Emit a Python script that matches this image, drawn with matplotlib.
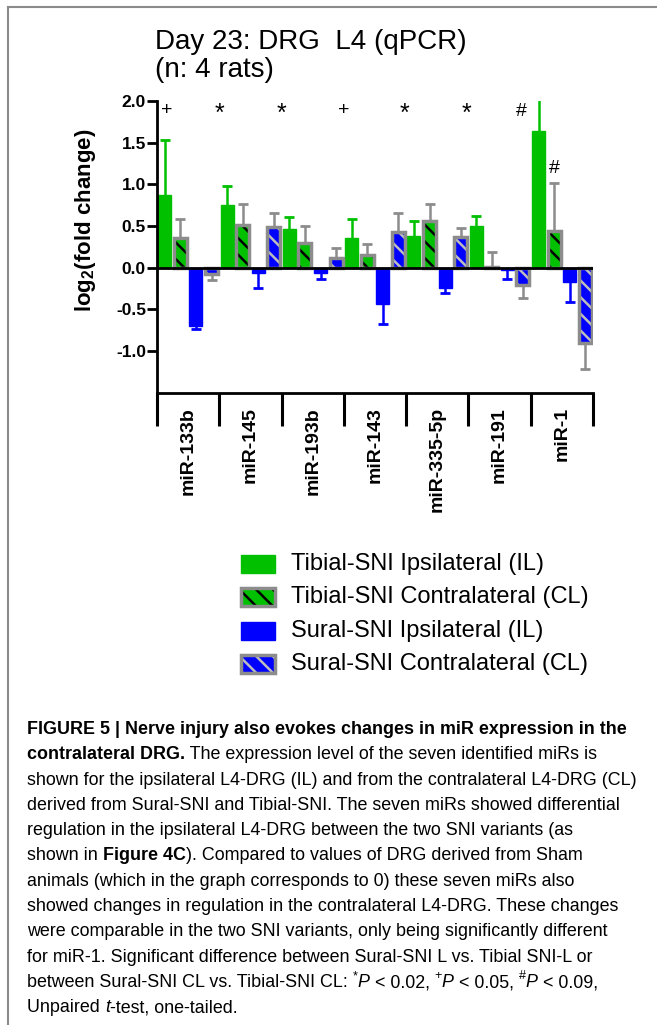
import matplotlib
matplotlib.use('Agg')
import matplotlib.pyplot as plt
import matplotlib.transforms as mtransforms
from matplotlib.patches import Rectangle
from matplotlib.lines import Line2D
from matplotlib.ticker import FormatStrFormatter
from matplotlib.font_manager import FontProperties, fontManager
import numpy as np

# --- dane ---
mirs = ['miR-133b', 'miR-145', 'miR-193b', 'miR-143', 'miR-335-5p', 'miR-191', 'miR-1']

tib_il = [0.87, 0.75, 0.46, 0.36, 0.38, 0.50, 1.64]
tib_il_err = [0.66, 0.23, 0.15, 0.22, 0.18, 0.12, 0.45]
tib_cl = [0.36, 0.51, 0.29, 0.15, 0.56, 0.01, 0.44]
tib_cl_err = [0.22, 0.25, 0.21, 0.13, 0.20, 0.18, 0.57]
sur_il = [-0.70, -0.07, -0.07, -0.44, -0.24, -0.03, -0.17]
sur_il_err = [0.04, 0.18, 0.07, 0.24, 0.07, 0.11, 0.24]
sur_cl = [-0.08, 0.49, 0.11, 0.43, 0.37, -0.21, -0.91]
sur_cl_err = [0.07, 0.17, 0.12, 0.22, 0.10, 0.16, 0.31]

marks = ['+', '*', '*', '+', '*', '*', '#', '#']
mark_x = [0.1, 3.5, 7.5, 11.5, 15.4, 19.4, 22.9, 25.0]
mark_y = [1.88, 1.84, 1.84, 1.88, 1.84, 1.84, 1.87, 1.19]
mark_size = {'+': 14, '*': 18, '#': 14}

legend_labels = ['Tibial-SNI Ipsilateral (IL)', 'Tibial-SNI Contralateral (CL)',
                 'Sural-SNI Ipsilateral (IL)', 'Sural-SNI Contralateral (CL)']

caption = [
    [('FIGURE 5 | Nerve injury also evokes changes in miR expression in the', 'b')],
    [('contralateral DRG.', 'b'), (' The expression level of the seven identified miRs is', 'n')],
    [('shown for the ipsilateral L4-DRG (IL) and from the contralateral L4-DRG (CL)', 'n')],
    [('derived from Sural-SNI and Tibial-SNI. The seven miRs showed differential', 'n')],
    [('regulation in the ipsilateral L4-DRG between the two SNI variants (as', 'n')],
    [('shown in ', 'n'), ('Figure 4C', 'b'), ('). Compared to values of DRG derived from Sham', 'n')],
    [('animals (which in the graph corresponds to 0) these seven miRs also', 'n')],
    [('showed changes in regulation in the contralateral L4-DRG. These changes', 'n')],
    [('were comparable in the two SNI variants, only being significantly different', 'n')],
    [('for miR-1. Significant difference between Sural-SNI L vs. Tibial SNI-L or', 'n')],
    [('between Sural-SNI CL vs. Tibial-SNI CL: ', 'n'), ('*', 's'), ('P', 'i'), (' < 0.02, ', 'n'),
     ('+', 's'), ('P', 'i'), (' < 0.05, ', 'n'), ('#', 's'), ('P', 'i'), (' < 0.09,', 'n')],
    [('Unpaired ', 'n'), ('t', 'i'), ('-test, one-tailed.', 'n')],
]

# --- styl ---
plt.rcParams['font.family'] = 'Liberation Sans'
plt.rcParams['axes.unicode_minus'] = False
plt.rcParams['hatch.linewidth'] = 1.8
plt.rcParams['mathtext.fontset'] = 'custom'
plt.rcParams['mathtext.rm'] = 'Liberation Sans:bold'

names = {f.name for f in fontManager.ttflist}
cap_font = 'Liberation Sans Narrow' if 'Liberation Sans Narrow' in names else 'Liberation Sans'

W, H = 657, 1025
fig = plt.figure(figsize=(W / 100, H / 100), dpi=100)


def fx(x):
    return x / W


def fy(y):
    return 1 - y / H


green = '#00c000'
blue = '#0000ff'
gray = '#8c8c8c'
light = '#bdbdbd'
hatch = '\\\\'

ax = fig.add_axes([fx(157), fy(392.6), 436 / W, (392.6 - 101) / H])

base = np.arange(len(mirs)) * 4
bw = 0.84

ax.bar(base, tib_il, bw, color=green, edgecolor=green, lw=1, zorder=2)
ax.bar(base + 1, tib_cl, bw, color=green, edgecolor='black', hatch=hatch, lw=0, zorder=2)
ax.bar(base + 1, tib_cl, bw, fill=False, edgecolor=gray, lw=2.5, zorder=3)
ax.bar(base + 2, sur_il, bw, color=blue, edgecolor=blue, lw=1, zorder=2)
ax.bar(base + 3, sur_cl, bw, color=blue, edgecolor=light, hatch=hatch, lw=0, zorder=2)
ax.bar(base + 3, sur_cl, bw, fill=False, edgecolor=gray, lw=2.5, zorder=3)


def one_side_err(xs, vals, errs, color):
    vals = np.array(vals)
    tips = vals + np.sign(vals) * np.array(errs)
    ax.vlines(xs, vals, tips, color=color, lw=1.8, zorder=1.5)
    ax.plot(xs, tips, ls='none', marker='_', ms=7, mew=2, color=color, zorder=1.5)


one_side_err(base, tib_il, tib_il_err, green)
one_side_err(base + 1, tib_cl, tib_cl_err, gray)
one_side_err(base + 2, sur_il, sur_il_err, blue)
one_side_err(base + 3, sur_cl, sur_cl_err, gray)

ax.axhline(0, color='black', lw=2, zorder=4)

for m, x, y in zip(marks, mark_x, mark_y):
    ax.text(x, y, m, ha='center', va='center', fontsize=mark_size[m])

ax.set_xlim(-0.5, 27.5)
ax.set_ylim(-1.5, 2.0)
ax.spines[['top', 'right']].set_visible(False)
ax.spines['left'].set_linewidth(2)
ax.spines['bottom'].set_linewidth(2)
ax.set_yticks(np.arange(-1.0, 2.01, 0.5))
ax.yaxis.set_major_formatter(FormatStrFormatter('%.1f'))
ax.tick_params(axis='y', direction='out', length=7, width=2, labelsize=12.5, pad=1)
for lab in ax.get_yticklabels():
    lab.set_fontweight('bold')
ax.set_xticks(np.arange(-0.5, 28, 4))
ax.set_xticklabels([])
ax.tick_params(axis='x', direction='out', length=24, width=2.2)

trans = mtransforms.blended_transform_factory(ax.transData, fig.transFigure)
for i, name in enumerate(mirs):
    ax.text(base[i] + 1.5, fy(407), name, transform=trans, rotation=90, ha='center',
            va='top', fontsize=14, fontweight='bold')

fig.text(fx(85), fy(220), r'log$_2$(fold change)', rotation=90, ha='center', va='center',
         fontsize=16, fontweight='bold')

fig.text(fx(155), fy(42), 'Day 23: DRG  L4 (qPCR)', fontsize=20, va='center')
fig.text(fx(155), fy(70), '(n: 4 rats)', fontsize=20, va='center')

# --- legenda ---
rows = [564, 597, 631, 664]
styles = [(green, None, None), (green, 'black', gray), (blue, None, None), (blue, light, gray)]
for y, lab, (fc, hc, ec) in zip(rows, legend_labels, styles):
    x0, y0, w, h = fx(241), fy(y + 9), 34 / W, 18 / H
    if hc is None:
        fig.add_artist(Rectangle((x0, y0), w, h, facecolor=fc, edgecolor=fc, lw=1))
    else:
        fig.add_artist(Rectangle((x0, y0), w, h, facecolor=fc, edgecolor=hc, hatch=hatch, lw=0))
        fig.add_artist(Rectangle((x0, y0), w, h, fill=False, edgecolor=ec, lw=2.5))
    fig.text(fx(291), fy(y), lab, fontsize=17, va='center')

# --- ramka ---
fig.add_artist(Line2D([fx(8), 1], [fy(7), fy(7)], color='#8a8a8a', lw=1.5))
fig.add_artist(Line2D([fx(8), fx(8)], [fy(7), 0], color='#8a8a8a', lw=1.5))

# --- podpis ---
renderer = fig.canvas.get_renderer()


def props(kind, size):
    return FontProperties(family=cap_font, size=size,
                          weight='bold' if kind == 'b' else 'normal',
                          style='italic' if kind == 'i' else 'normal')


def adv(text, fp):
    w1 = renderer.get_text_width_height_descent('|' + text + '|', fp, ismath=False)[0]
    w0 = renderer.get_text_width_height_descent('||', fp, ismath=False)[0]
    return w1 - w0


ref_line = caption[2][0][0]
w10 = adv(ref_line, props('n', 10))
cap_size = 10 * 613 / w10

for i, line in enumerate(caption):
    x = 27
    yb = 734 + i * 25.3
    for text, kind in line:
        size = cap_size * 0.7 if kind == 's' else cap_size
        yy = yb - (cap_size * 0.45 * 100 / 72 if kind == 's' else 0)
        fp = props(kind, size)
        fig.text(fx(x), fy(yy), text, fontproperties=fp, va='baseline', ha='left')
        x += adv(text, fp)

fig.savefig('out.png', dpi=100)
